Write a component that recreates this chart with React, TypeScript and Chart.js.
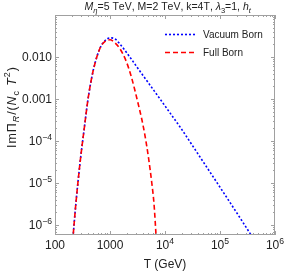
import React, { useEffect, useRef } from "react";
import { Chart, registerables } from "chart.js";

Chart.register(...registerables);

// ---- data ----
const vacuumT = [209, 240, 285, 337, 404, 498, 658, 813, 1000, 1202, 1514, 2291, 3508, 5333, 8128, 12300, 18620, 43250, 100000, 231200, 398000];
const vacuumVal = [4.0e-7, 3.3e-6, 3.0e-5, 1.8e-4, 1.12e-3, 4.9e-3, 0.0162, 0.0245, 0.0285, 0.0275, 0.0204, 0.0100, 4.57e-3, 2.14e-3, 1.0e-3, 4.68e-4, 2.19e-4, 4.17e-5, 7.94e-6, 1.48e-6, 4.9e-7];

const fullT = [209, 240, 285, 337, 404, 498, 658, 794, 1000, 1202, 1514, 1995, 2455, 2818, 3236, 3802, 4365, 5012, 5754, 6310, 6918];
const fullVal = [4.0e-7, 3.3e-6, 3.0e-5, 1.8e-4, 1.12e-3, 4.9e-3, 0.0162, 0.0229, 0.0257, 0.0224, 0.0158, 0.0076, 0.0033, 1.66e-3, 7.9e-4, 3.2e-4, 1.26e-4, 4.0e-5, 1.0e-5, 3.2e-6, 5.0e-7];

const xTickValues = [100, 1000, 1e4, 1e5, 1e6];
const xTickBase = ["100", "1000", "10", "10", "10"];
const xTickExp = ["", "", "4", "5", "6"];
const yTickValues = [1e-6, 1e-5, 1e-4, 1e-3, 1e-2];
const yTickBase = ["10", "10", "10", "0.001", "0.010"];
const yTickExp = ["−6", "−5", "−4", "", ""];

const seriesNames = ["Vacuum Born", "Full Born"];

const FONT = "'Liberation Sans', Arial, sans-serif";
const TEXT = "#222";
const FRAME = "#a0a0a0";

type Seg = { t: string; it?: boolean; sub?: boolean; sup?: boolean };

function segFont(s: Seg, size: number) {
  const sz = s.sub || s.sup ? size * 0.72 : size;
  return `${s.it ? "italic " : ""}${sz}px ${FONT}`;
}

function richWidth(ctx: CanvasRenderingContext2D, segs: Seg[], size: number, spacing = 0) {
  let w = 0;
  let n = 0;
  for (const s of segs) {
    ctx.font = segFont(s, size);
    w += ctx.measureText(s.t).width;
    n += [...s.t].length;
  }
  return w + spacing * Math.max(0, n - 1);
}

function drawRich(ctx: CanvasRenderingContext2D, segs: Seg[], size: number, x: number, y: number, spacing = 0) {
  let cx = x;
  ctx.textBaseline = "alphabetic";
  ctx.textAlign = "left";
  for (const s of segs) {
    ctx.font = segFont(s, size);
    const dy = s.sub ? size * 0.25 : s.sup ? -size * 0.42 : 0;
    for (const ch of [...s.t]) {
      ctx.fillText(ch, cx, y + dy);
      cx += ctx.measureText(ch).width + spacing;
    }
  }
}

const titleSegs: Seg[] = [
  { t: "M", it: true },
  { t: "η", it: true, sub: true },
  { t: "=5 TeV, M=2 TeV, k=4T, " },
  { t: "λ", it: true },
  { t: "3", sub: true },
  { t: "=1, " },
  { t: "h", it: true },
  { t: "t", it: true, sub: true },
];

const yLabelSegs: Seg[] = [
  { t: "ImΠ" },
  { t: "R", it: true, sub: true },
  { t: "/(" },
  { t: "N", it: true },
  { t: "c", sub: true },
  { t: " " },
  { t: "T", it: true },
  { t: "2", sup: true },
  { t: ")" },
];

const TICK_SIZE = 12;

function tickSegs(base: string, exp: string): Seg[] {
  return exp ? [{ t: base }, { t: exp, sup: true }] : [{ t: base }];
}

const framePlugin = {
  id: "mmaFrame",
  afterDraw(chart: any) {
    const { ctx, chartArea: a, scales } = chart;
    const xs = scales.x;
    const ys = scales.y;
    ctx.save();
    ctx.strokeStyle = FRAME;
    ctx.lineWidth = 1;
    ctx.strokeRect(Math.round(a.left) + 0.5, Math.round(a.top) + 0.5, Math.round(a.right - a.left) - 1, Math.round(a.bottom - a.top) - 1);

    // frame ticks
    ctx.beginPath();
    for (let d = 2; d <= 6; d++) {
      for (let k = 1; k <= 9; k++) {
        const v = k * Math.pow(10, d);
        if (v < xs.min || v > xs.max) continue;
        const px = Math.round(xs.getPixelForValue(v)) + 0.5;
        const len = k === 1 ? 4 : 2;
        ctx.moveTo(px, a.bottom);
        ctx.lineTo(px, a.bottom - len);
        ctx.moveTo(px, a.top);
        ctx.lineTo(px, a.top + len);
      }
    }
    for (let d = -7; d <= -1; d++) {
      for (let k = 1; k <= 9; k++) {
        const v = k * Math.pow(10, d);
        if (v < ys.min || v > ys.max) continue;
        const py = Math.round(ys.getPixelForValue(v)) + 0.5;
        const len = k === 1 ? 4 : 2;
        ctx.moveTo(a.left, py);
        ctx.lineTo(a.left + len, py);
        ctx.moveTo(a.right, py);
        ctx.lineTo(a.right - len, py);
      }
    }
    ctx.stroke();

    ctx.fillStyle = TEXT;
    // x tick labels
    xTickValues.forEach((v, i) => {
      const segs = tickSegs(xTickBase[i], xTickExp[i]);
      const w = richWidth(ctx, segs, TICK_SIZE);
      const px = xs.getPixelForValue(v);
      drawRich(ctx, segs, TICK_SIZE, px - w / 2, a.bottom + 14, 0);
    });
    // y tick labels
    yTickValues.forEach((v, i) => {
      const segs = tickSegs(yTickBase[i], yTickExp[i]);
      const w = richWidth(ctx, segs, TICK_SIZE);
      const py = ys.getPixelForValue(v);
      drawRich(ctx, segs, TICK_SIZE, a.left - 3 - w, py + 4.3, 0);
    });

    // title
    const tsz = 10.5;
    const tw = richWidth(ctx, titleSegs, tsz);
    drawRich(ctx, titleSegs, tsz, (a.left + a.right) / 2 - tw / 2, 10);

    // y axis label
    const ysz = 12.5;
    const sp = 0.9;
    const yw = richWidth(ctx, yLabelSegs, ysz, sp);
    ctx.save();
    ctx.translate(15.5, 107.5);
    ctx.rotate(-Math.PI / 2);
    drawRich(ctx, yLabelSegs, ysz, -yw / 2, 0, sp);
    ctx.restore();

    // legend
    const ds = chart.data.datasets;
    [0, 1].forEach((i, row) => {
      const d = ds[i];
      const y = 34 + row * 18;
      ctx.save();
      ctx.strokeStyle = d.borderColor;
      ctx.lineWidth = d.borderWidth;
      ctx.setLineDash(d.borderDash);
      ctx.beginPath();
      ctx.moveTo(165, y + 0.5);
      ctx.lineTo(195, y + 0.5);
      ctx.stroke();
      ctx.restore();
      ctx.fillStyle = TEXT;
      ctx.font = `10px ${FONT}`;
      ctx.textAlign = "left";
      ctx.textBaseline = "middle";
      ctx.fillText(d.label, 203, y + 1);
    });
    ctx.restore();
  },
};

export default function App() {
  const ref = useRef<HTMLCanvasElement | null>(null);
  useEffect(() => {
    document.body.style.margin = "0";
    const canvas = ref.current!;
    const chart = new Chart(canvas, {
      type: "line",
      data: {
        datasets: [
          {
            label: seriesNames[0],
            data: vacuumT.map((t, i) => ({ x: t, y: vacuumVal[i] })),
            borderColor: "#0000ff",
            borderWidth: 1.6,
            borderDash: [2, 2],
            pointRadius: 0,
            cubicInterpolationMode: "monotone",
            order: 1,
          },
          {
            label: seriesNames[1],
            data: fullT.map((t, i) => ({ x: t, y: fullVal[i] })),
            borderColor: "#ff0000",
            borderWidth: 1.6,
            borderDash: [5, 3],
            pointRadius: 0,
            cubicInterpolationMode: "monotone",
            order: 0,
          },
        ],
      },
      plugins: [framePlugin],
      options: {
        responsive: false,
        animation: false,
        layout: { padding: { top: 15, right: 10, left: 0, bottom: 0 } },
        plugins: { legend: { display: false }, tooltip: { enabled: false }, title: { display: false } },
        scales: {
          x: {
            type: "logarithmic",
            min: 100,
            max: 1e6,
            afterBuildTicks: (s: any) => {
              s.ticks = xTickValues.map((v) => ({ value: v }));
            },
            afterFit: (s: any) => {
              s.height = 38;
            },
            ticks: { display: false },
            grid: { display: false },
            border: { display: false },
            title: { display: true, text: "T (GeV)", color: TEXT, font: { family: FONT, size: 12 }, padding: { top: 0, bottom: 1 } },
          },
          y: {
            type: "logarithmic",
            min: 5.78e-7,
            max: 0.1,
            afterBuildTicks: (s: any) => {
              s.ticks = yTickValues.map((v) => ({ value: v }));
            },
            afterFit: (s: any) => {
              s.width = 55;
            },
            ticks: { display: false },
            grid: { display: false },
            border: { display: false },
          },
        },
      },
    } as any);
    return () => chart.destroy();
  }, []);
  return <canvas ref={ref} width={285} height={273} style={{ display: "block" }} />;
}
